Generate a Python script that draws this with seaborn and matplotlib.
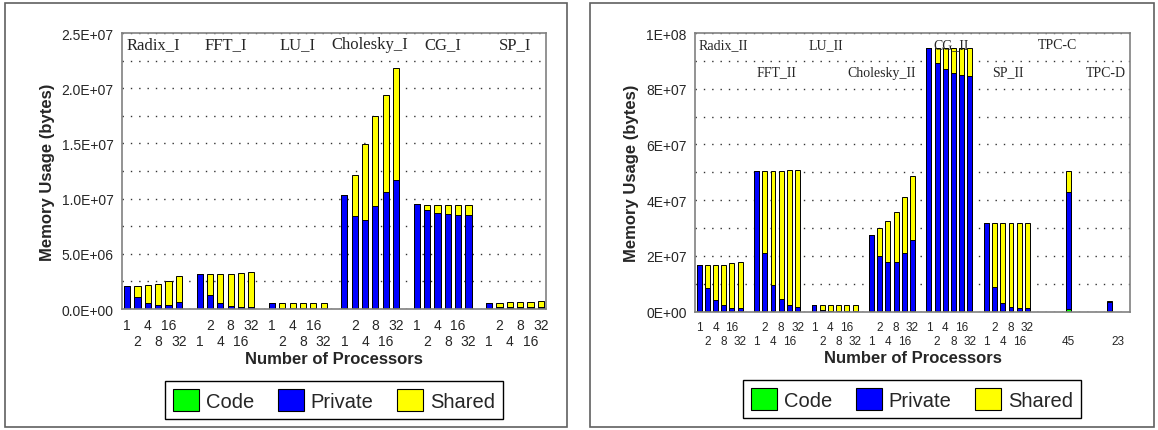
import matplotlib
matplotlib.use("Agg")
import matplotlib.pyplot as plt
from matplotlib.patches import Patch, Rectangle
from matplotlib.ticker import FuncFormatter, MultipleLocator
import pandas as pd
import seaborn as sns

sns.set_style("white")
plt.rcParams["font.family"] = ["Liberation Sans", "DejaVu Sans"]

# processor counts in each benchmark group
procs = ["1", "2", "4", "8", "16", "32"]

# ---- left chart (values in units of 1e6 bytes) ----
left_groups = ["Radix_I", "FFT_I", "LU_I", "Cholesky_I", "CG_I", "SP_I"]
left_code = [
    [0.01] * 6,
    [0.01] * 6,
    [0.01] * 6,
    [0.05] * 6,
    [0.03] * 6,
    [0.08] * 6,
]
left_private = [
    [2.05, 1.05, 0.54, 0.35, 0.38, 0.65],
    [3.16, 1.26, 0.54, 0.26, 0.17, 0.17],
    [0.54, 0.12, 0.07, 0.05, 0.04, 0.04],
    [10.28, 8.35, 7.98, 9.25, 10.55, 11.66],
    [9.45, 8.94, 8.67, 8.57, 8.51, 8.48],
    [0.47, 0.12, 0.10, 0.09, 0.09, 0.09],
]
left_shared = [
    [0, 1.00, 1.62, 1.91, 2.15, 2.30],
    [0, 1.87, 2.59, 2.87, 3.05, 3.17],
    [0, 0.40, 0.45, 0.47, 0.48, 0.48],
    [0, 3.74, 6.94, 8.18, 8.75, 10.12],
    [0, 0.48, 0.75, 0.85, 0.91, 0.94],
    [0, 0.35, 0.42, 0.45, 0.49, 0.55],
]

# ---- right chart ----
right_groups = ["Radix_II", "FFT_II", "LU_II", "Cholesky_II", "CG_II", "SP_II", "TPC-C", "TPC-D"]
right_code = [
    [0.1] * 6,
    [0.1] * 6,
    [0.05] * 6,
    [0.2] * 6,
    [0.2] * 6,
    [0.2] * 6,
]
right_private = [
    [16.6, 8.4, 4.1, 2.3, 1.2, 1.2],
    [50.4, 21.0, 9.5, 4.5, 2.3, 1.6],
    [2.35, 0.5, 0.3, 0.2, 0.15, 0.15],
    [27.4, 19.7, 17.7, 17.7, 20.9, 25.7],
    [94.3, 89.2, 86.9, 85.4, 84.7, 84.4],
    [31.5, 8.8, 2.8, 1.4, 1.1, 1.1],
]
right_shared = [
    [0, 8.2, 12.6, 14.4, 16.0, 16.5],
    [0, 29.3, 40.8, 45.8, 48.3, 49.3],
    [0, 1.75, 1.95, 2.05, 2.1, 2.1],
    [0, 10.1, 14.7, 17.8, 20.0, 22.7],
    [0, 5.1, 7.4, 8.9, 9.6, 9.9],
    [0, 22.8, 28.7, 30.1, 30.5, 30.7],
]
# TPC slots after the SP_II group
tpc_labels = ["", "", "", "45", "", "", "", "", "", "23", ""]
tpc_code = [0, 0, 0, 1.0, 0, 0, 0, 0, 0.1, 0, 0]
tpc_private = [0, 0, 0, 41.9, 0, 0, 0, 0, 3.3, 0, 0]
tpc_shared = [0, 0, 0, 7.6, 0, 0, 0, 0, 0.56, 0, 0]

left_label_pos = [2.5, 9.5, 16.5, 23.5, 30.5, 37.5]
right_label_pos = [3.0, 9.4, 15.4, 22.2, 30.7, 37.6, 43.7, 49.6]
right_label_row = [0, 1, 0, 1, 0, 1, 0, 1]

GREEN, BLUE, YELLOW = "#00FF00", "#0000FF", "#FFFF00"


def make_frame(code, private, shared, tail=None):
    rows = []
    for g in range(len(code)):
        for i in range(6):
            rows.append((procs[i], code[g][i], private[g][i], shared[g][i]))
        if g < len(code) - 1 or tail is not None:
            rows.append(("", 0, 0, 0))
    if tail is not None:
        for lab, c, p, s in zip(*tail):
            rows.append((lab, c, p, s))
    df = pd.DataFrame(rows, columns=["label", "code", "private", "shared"])
    df[["code", "private", "shared"]] *= 1e6
    df["slot"] = range(len(df))
    df["c1"] = df["code"]
    df["c2"] = df["code"] + df["private"]
    df["c3"] = df["c2"] + df["shared"]
    return df


def draw_panel(ax, df, ymax, major, minor, fmt, xfont, xpad):
    n = len(df)
    for col, colr in [("c3", YELLOW), ("c2", BLUE), ("c1", GREEN)]:
        sns.barplot(data=df, x="slot", y=col, order=list(range(n)), color=colr,
                    saturation=1, width=0.6, edgecolor="black", linewidth=0.7, ax=ax)
    ax.set_xlim(-0.5, n - 0.5)
    ax.set_ylim(0, ymax)
    ax.yaxis.set_major_locator(MultipleLocator(major))
    ax.yaxis.set_minor_locator(MultipleLocator(minor))
    ax.yaxis.set_major_formatter(FuncFormatter(lambda v, p: fmt.format(v)))
    ax.grid(True, which="both", axis="y", color="#333333", linestyle=(0, (1, 5)), linewidth=1)
    ax.grid(False, axis="x")
    labels = [("\n" + l) if i % 2 else l for i, l in enumerate(df["label"])]
    ax.set_xticks(range(n))
    ax.set_xticklabels(labels, fontsize=xfont, linespacing=1.2)
    ax.tick_params(axis="both", which="both", length=0)
    ax.tick_params(axis="y", labelsize=10, pad=6)
    ax.tick_params(axis="x", pad=xpad)
    for sp in ax.spines.values():
        sp.set_visible(True)
        sp.set_color("#808080")
        sp.set_linewidth(1.2)
    ax.set_xlabel("Number of Processors", fontsize=12, fontweight="bold", labelpad=2)
    ax.set_ylabel("Memory Usage (bytes)", fontsize=12, fontweight="bold", labelpad=5)


fig = plt.figure(figsize=(11.58, 4.31), dpi=100)

# outer chart-area borders
for x0, w in [(0.0043, 0.4853), (0.5095, 0.487)]:
    fig.patches.append(Rectangle((x0, 0.006), w, 0.985, transform=fig.transFigure,
                                 fill=False, edgecolor="#606060", linewidth=1.2))

ax1 = fig.add_axes([0.1054, 0.2807, 0.3661, 0.6404])
ax2 = fig.add_axes([0.6002, 0.2745, 0.3756, 0.6466])

df_left = make_frame(left_code, left_private, left_shared)
df_right = make_frame(right_code, right_private, right_shared,
                      tail=(tpc_labels, tpc_code, tpc_private, tpc_shared))

draw_panel(ax1, df_left, 2.5e7, 5e6, 2.5e6, "{:.1E}", 10, 6.5)
draw_panel(ax2, df_right, 1e8, 2e7, 1e7, "{:.0E}", 8.5, 7)

for name, xpos in zip(left_groups, left_label_pos):
    ax1.text(xpos, 0.96, name, transform=ax1.get_xaxis_transform(), ha="center", va="center",
             fontsize=12, family=["Liberation Serif", "DejaVu Serif"])
for name, xpos, row in zip(right_groups, right_label_pos, right_label_row):
    ax2.text(xpos, 0.96 if row == 0 else 0.86, name, transform=ax2.get_xaxis_transform(),
             ha="center", va="center", fontsize=10, family=["Liberation Serif", "DejaVu Serif"])

handles = [Patch(facecolor=c, edgecolor="black", linewidth=0.8) for c in (GREEN, BLUE, YELLOW)]
for cx, cy in [(0.2884, 0.0696), (0.7876, 0.072)]:
    fig.legend(handles, ["Code", "Private", "Shared"], loc="center", bbox_to_anchor=(cx, cy),
               ncol=3, fontsize=14.5, frameon=True, fancybox=False, edgecolor="black",
               framealpha=1, handlelength=1.3, handleheight=1.3, handletextpad=0.35,
               columnspacing=1.15, borderpad=0.4)

fig.savefig("out.png", dpi=100)
